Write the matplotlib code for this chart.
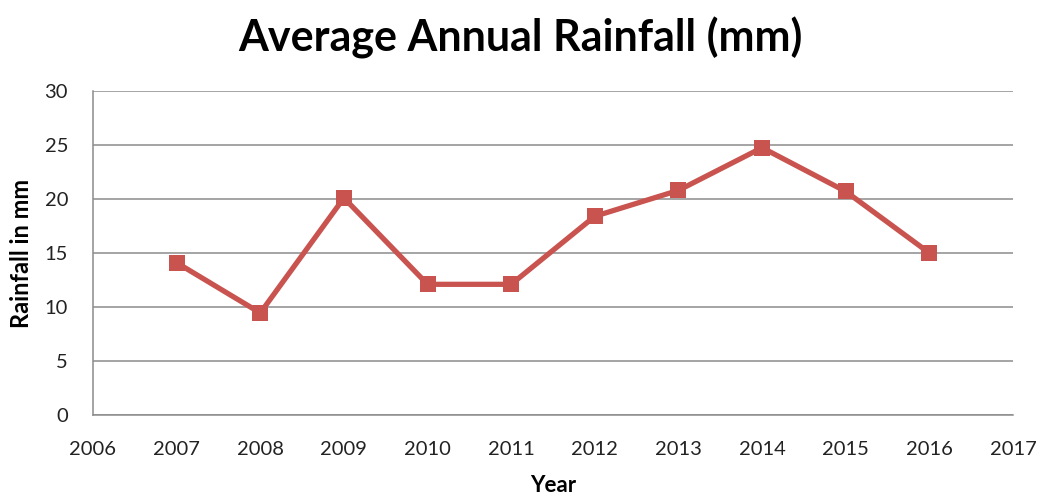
import matplotlib
matplotlib.use("Agg")
import matplotlib.pyplot as plt

# data
years = [2007, 2008, 2009, 2010, 2011, 2012, 2013, 2014, 2015, 2016]
rainfall = [14.1, 9.45, 20.1, 12.1, 12.1, 18.4, 20.8, 24.75, 20.7, 15.0]
x_ticks = list(range(2006, 2018))
y_ticks = [0, 5, 10, 15, 20, 25, 30]

plt.rcParams['font.family'] = ['Lato', 'DejaVu Sans']

fig = plt.figure(figsize=(10.4, 4.99), dpi=100)
ax = fig.add_axes([93 / 1040, 1 - 415 / 499, (1013 - 93) / 1040, (415 - 91) / 499])

ax.plot(years, rainfall, color='#C9544F', linewidth=3.8, marker='s',
        markersize=12, markeredgewidth=0, zorder=3)

ax.set_xlim(2006, 2017)
ax.set_ylim(0, 30)
ax.set_xticks(x_ticks)
ax.set_yticks(y_ticks)
ax.tick_params(axis='both', length=0, labelsize=14.5, colors='#222222')
ax.tick_params(axis='x', pad=19)
ax.tick_params(axis='y', pad=18)

ax.grid(axis='y', color='#8C8C8C', linewidth=1.1)
ax.set_axisbelow(True)
for side in ['top', 'right']:
    ax.spines[side].set_visible(False)
for side in ['left', 'bottom']:
    ax.spines[side].set_color('#8C8C8C')
    ax.spines[side].set_linewidth(1.1)

ax.set_xlabel("Year", fontsize=16, fontweight='bold', labelpad=12)
ax.set_ylabel("Rainfall in mm", fontsize=17, fontweight='bold', labelpad=8)
fig.text(0.5, 1 - 38 / 499, "Average Annual Rainfall (mm)", ha='center', va='center',
         fontsize=31, fontweight='bold')

fig.savefig("out.png", dpi=100)
